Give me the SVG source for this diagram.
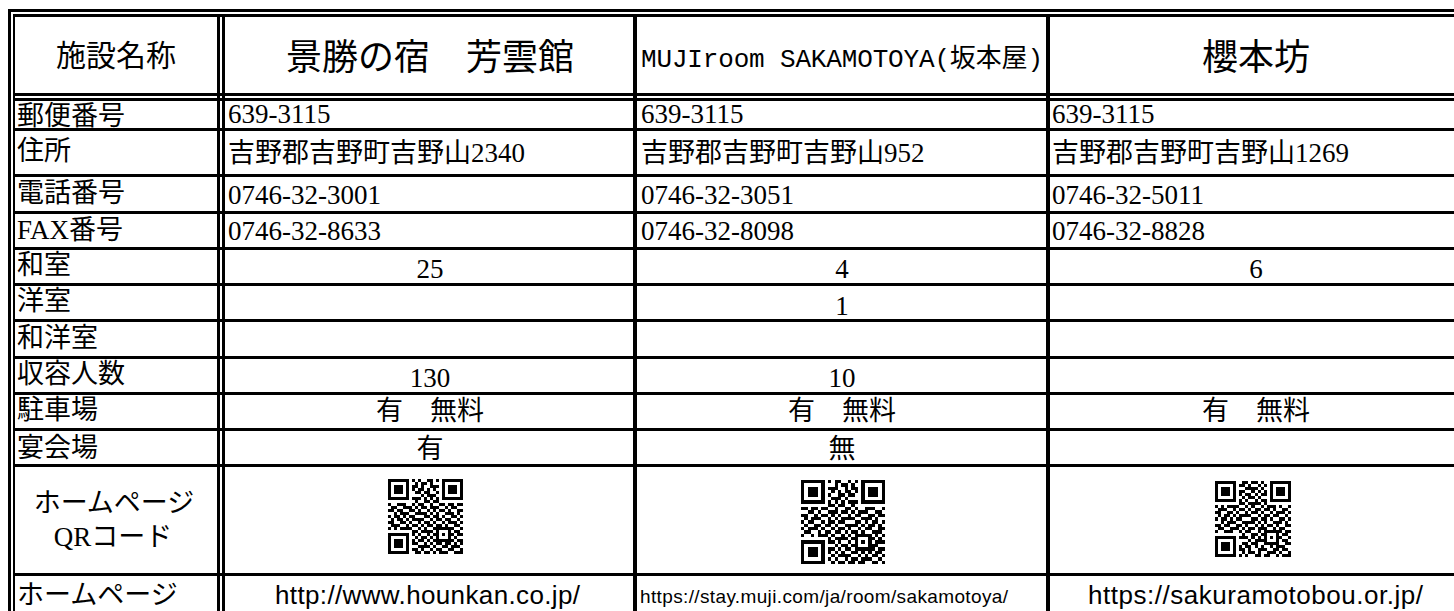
<svg xmlns="http://www.w3.org/2000/svg" xmlns:xlink="http://www.w3.org/1999/xlink" width="1454" height="611" viewBox="0 0 1454 611">
<style>
.t{font-family:"Liberation Serif","Noto Sans CJK JP",serif;font-size:27px;fill:#000}
.g{font-family:"Noto Sans CJK JP",sans-serif;fill:#000}
.c{text-anchor:middle}
.u{font-family:"Liberation Sans","Noto Sans CJK JP",sans-serif;fill:#000}
.ln{stroke:#000;fill:none}
.q path{stroke:#000;stroke-width:1;fill:none}
</style>
<defs>
<g id="qrd" class="q">
<path d="M0 0.5h25" stroke-dasharray="1 1 2 2 3 1 1 2 2 1 2 2 1 1 3 9"/>
<path d="M0 1.5h25" stroke-dasharray="0 1 2 1 3 2 1 1 2 1 1 2 3 1 1 2 1 9"/>
<path d="M0 2.5h25" stroke-dasharray="2 2 1 2 3 1 1 2 3 2 2 1 2 9"/>
<path d="M0 3.5h25" stroke-dasharray="0 2 2 1 2 1 1 1 2 1 1 1 1 2 1 1 3 9"/>
<path d="M0 4.5h25" stroke-dasharray="3 2 1 1 1 1 2 1 2 2 2 1 1 3 2 9"/>
<path d="M0 5.5h25" stroke-dasharray="0 1 1 1 2 1 2 3 1 1 3 1 2 1 1 1 2 9"/>
<path d="M0 6.5h25" stroke-dasharray="1 1 1 1 2 2 3 1 1 1 1 1 1 1 1 1 2 2 1 9"/>
<path d="M0 7.5h25" stroke-dasharray="0 1 3 2 2 1 1 2 2 1 3 1 1 2 2 9"/>
<path d="M0 8.5h25" stroke-dasharray="1 2 3 2 1 1 2 2 1 2 2 1 2 1 2 9"/>
<path d="M0 9.5h25" stroke-dasharray="0 1 2 2 3 1 1 1 2 1 3 2 1 1 2 9"/>
<path d="M0 10.5h25" stroke-dasharray="2 1 2 2 2 1 1 2 1 1 1 1 2 1 1 2 2 9"/>
<path d="M0 11.5h25" stroke-dasharray="0 2 1 1 3 2 4 1 1 1 1 2 3 1 1 9"/>
<path d="M0 12.5h25" stroke-dasharray="1 1 2 1 1 1 2 3 2 1 2 1 1 2 2 1 1 9"/>
<path d="M0 13.5h25" stroke-dasharray="0 1 1 1 2 1 1 1 4 2 1 1 2 1 2 2 1 9"/>
<path d="M0 14.5h25" stroke-dasharray="2 2 2 1 1 2 1 1 2 1 1 2 1 1 3 1 1 9"/>
<path d="M0 15.5h25" stroke-dasharray="0 1 3 2 1 1 2 1 1 1 2 1 2 1 1 2 2 9"/>
<path d="M0 16.5h25" stroke-dasharray="1 1 1 1 4 2 1 1 1 2 1 1 3 1 1 2 1 9"/>
<path d="M0 17.5h25" stroke-dasharray="0 1 1 1 1 3 3 1 4 1 1 2 2 1 2 9"/>
<path d="M0 18.5h25" stroke-dasharray="3 1 2 2 1 1 1 2 1 1 2 1 1 1 2 1 2 9"/>
<path d="M0 19.5h25" stroke-dasharray="0 2 2 1 3 1 1 1 2 1 1 2 1 1 2 1 1 9"/>
<path d="M0 20.5h25" stroke-dasharray="2 1 2 2 2 1 2 1 1 1 2 1 1 2 1 1 2 9"/>
<path d="M0 21.5h25" stroke-dasharray="0 1 2 1 1 1 1 1 2 2 1 1 1 1 2 1 2 1 1 1 1 9"/>
<path d="M0 22.5h25" stroke-dasharray="1 1 2 1 1 1 1 2 4 1 1 2 2 1 3 9"/>
<path d="M0 23.5h25" stroke-dasharray="0 1 1 2 3 1 2 1 1 2 1 1 2 2 2 2 1 9"/>
<path d="M0 24.5h25" stroke-dasharray="1 1 2 2 2 1 2 1 2 1 1 1 3 2 3 9"/>
</g>
<g id="fp"><rect x="0.5" y="0.5" width="6" height="6" fill="none" stroke="#000" stroke-width="1"/><rect x="2" y="2" width="3" height="3" fill="#000"/></g>
<g id="qrf">
<rect x="0" y="0" width="8" height="8" fill="#fff"/>
<rect x="17" y="0" width="8" height="8" fill="#fff"/>
<rect x="0" y="17" width="8" height="8" fill="#fff"/>
<use xlink:href="#fp" href="#fp"/>
<use xlink:href="#fp" href="#fp" x="18"/>
<use xlink:href="#fp" href="#fp" y="18"/>
<rect x="16" y="16" width="5" height="5" fill="#fff"/>
<rect x="16.5" y="16.5" width="4" height="4" fill="none" stroke="#000" stroke-width="1"/>
<rect x="18" y="18" width="1" height="1" fill="#000"/>
</g>
</defs>
<rect x="0" y="0" width="1454" height="611" fill="#fff"/>

<g id="connectors" class="ln" shape-rendering="crispEdges">
<path d="M8 10.5H1454" stroke-width="3"/>
<path d="M13 15.5H1454" stroke-width="3"/>
<path d="M9.5 9V611" stroke-width="3"/>
<path d="M14 14V611" stroke-width="2"/>
<path d="M218.5 17V611M223.5 17V611" stroke-width="3"/>
<path d="M635 17V611M1048 17V611" stroke-width="4"/>
<path d="M15 94H1454M15 99H1454" stroke-width="3"/>
<path d="M15 129H1454M15 175.5H1454M15 212H1454M15 248.5H1454M15 284.5H1454M15 320.5H1454M15 357H1454M15 393H1454M15 429H1454M15 465H1454M15 574H1454" stroke-width="3"/>
</g>

<g id="header">
<text class="g c" x="116" y="66" font-size="30">施設名称</text>
<text class="g c" x="430" y="69.5" font-size="36">景勝の宿　芳雲館</text>
<text x="641" y="67" font-family="Liberation Mono,'Noto Sans CJK JP',monospace" font-size="26" textLength="402" lengthAdjust="spacing">MUJIroom SAKAMOTOYA(坂本屋)</text>
<text class="g c" x="1256" y="69.5" font-size="36">櫻本坊</text>
</g>

<g id="row-postal">
<text class="t" x="17" y="125">郵便番号</text>
<text class="t" x="228" y="123">639-3115</text>
<text class="t" x="641" y="123">639-3115</text>
<text class="t" x="1052" y="123">639-3115</text>
</g>
<g id="row-address">
<text class="t" x="17" y="160">住所</text>
<text class="t" x="228" y="162">吉野郡吉野町吉野山2340</text>
<text class="t" x="641" y="162">吉野郡吉野町吉野山952</text>
<text class="t" x="1052" y="162">吉野郡吉野町吉野山1269</text>
</g>
<g id="row-tel">
<text class="t" x="17" y="202">電話番号</text>
<text class="t" x="228" y="204">0746-32-3001</text>
<text class="t" x="641" y="204">0746-32-3051</text>
<text class="t" x="1052" y="204">0746-32-5011</text>
</g>
<g id="row-fax">
<text class="t" x="17" y="239">FAX番号</text>
<text class="t" x="228" y="240">0746-32-8633</text>
<text class="t" x="641" y="240">0746-32-8098</text>
<text class="t" x="1052" y="240">0746-32-8828</text>
</g>
<g id="row-washitsu">
<text class="t" x="17" y="274">和室</text>
<text class="t c" x="430" y="278">25</text>
<text class="t c" x="842" y="278">4</text>
<text class="t c" x="1256" y="278">6</text>
</g>
<g id="row-youshitsu">
<text class="t" x="17" y="310">洋室</text>
<text class="t c" x="842" y="315">1</text>
</g>
<g id="row-wayoushitsu">
<text class="t" x="17" y="347">和洋室</text>
</g>
<g id="row-capacity">
<text class="t" x="17" y="383">収容人数</text>
<text class="t c" x="430" y="387">130</text>
<text class="t c" x="842" y="387">10</text>
</g>
<g id="row-parking">
<text class="t" x="17" y="419">駐車場</text>
<text class="t c" x="430" y="420">有　無料</text>
<text class="t c" x="842" y="420">有　無料</text>
<text class="t c" x="1256" y="420">有　無料</text>
</g>
<g id="row-banquet">
<text class="t" x="17" y="457">宴会場</text>
<text class="t c" x="430" y="458">有</text>
<text class="t c" x="842" y="458">無</text>
</g>
<g id="row-qr">
<text class="t c" x="114" y="512">ホームページ</text>
<text class="t c" x="113" y="546">QRコード</text>
<g id="qr-hounkan" transform="translate(388,479) scale(3)" shape-rendering="crispEdges"><use xlink:href="#qrd" href="#qrd"/><use xlink:href="#qrf" href="#qrf"/></g>
<g id="qr-muji" transform="translate(801,480) scale(3.36)" shape-rendering="crispEdges"><use xlink:href="#qrd" href="#qrd" transform="translate(25,0) scale(-1,1)"/><use xlink:href="#qrf" href="#qrf"/></g>
<g id="qr-sakuramotobou" transform="translate(1215,481) scale(3.04)" shape-rendering="crispEdges"><use xlink:href="#qrd" href="#qrd" transform="translate(0,25) scale(1,-1)"/><use xlink:href="#qrf" href="#qrf"/></g>
</g>
<g id="row-homepage">
<text class="t" x="17" y="604">ホームページ</text>
<text class="u" x="275" y="604" font-size="26" textLength="305" lengthAdjust="spacing">http://www.hounkan.co.jp/</text>
<text class="u" x="640" y="603" font-size="19" textLength="368" lengthAdjust="spacing">https://stay.muji.com/ja/room/sakamotoya/</text>
<text class="u" x="1088" y="604" font-size="26" textLength="335" lengthAdjust="spacing">https://sakuramotobou.or.jp/</text>
</g>
</svg>
